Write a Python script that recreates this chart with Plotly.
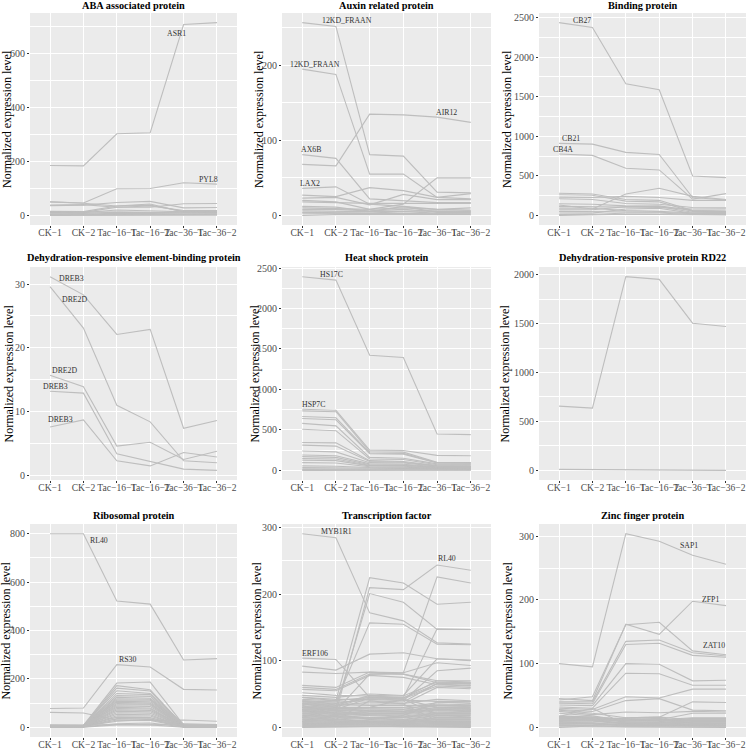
import plotly.graph_objects as go

# ---------------- data ----------------
samples = ["CK\u22121", "CK\u22122", "Tac\u221216\u22121", "Tac\u221216\u22122", "Tac\u221236\u22121", "Tac\u221236\u22122"]

titles = ["ABA associated protein", "Auxin related protein", "Binding protein",
          "Dehydration-responsive element-binding protein", "Heat shock protein",
          "Dehydration-responsive protein RD22",
          "Ribosomal protein", "Transcription factor", "Zinc finger protein"]

y_dticks = [200, 100, 500, 10, 500, 500, 200, 100, 100]

aba_lines = [
    [185, 184, 303, 307, 709, 716],
    [50, 46, 99, 100, 121, 116],
    [50, 45, 35, 38, 15, 14],
    [38, 40, 30, 30, 43, 44],
    [36, 38, 48, 52, 28, 29],
    [15, 14, 35, 42, 12, 12],
    [12, 11, 30, 35, 18, 18],
    [10, 10, 20, 16, 12, 10],
    [14, 13, 10, 9, 10, 9],
    [8, 7, 12, 10, 8, 8],
    [5, 5, 8, 7, 5, 5],
    [3, 3, 4, 4, 3, 3],
    [0, 0, 1, 1, 1, 1],
]
aba_labels = [("ASR1", 3.8, 675), ("PYL8", 4.76, 134)]

auxin_lines = [
    [257, 252, 81, 79, 31, 30],
    [195, 188, 55, 55, 24, 22],
    [68, 66, 135, 134, 131, 124],
    [81, 76, 22, 20, 17, 17],
    [36, 38, 15, 12, 8, 7],
    [27, 25, 37, 33, 24, 29],
    [20, 18, 8, 15, 50, 50],
    [23, 24, 14, 28, 21, 21],
    [18, 17, 16, 16, 16, 16],
    [12, 11, 5, 6, 6, 5],
    [10, 9, 8, 10, 8, 10],
    [8, 8, 6, 8, 5, 6],
    [6, 6, 5, 12, 4, 4],
    [4, 4, 3, 5, 3, 3],
    [3, 3, 2, 2, 2, 2],
    [0, 1, 1, 1, 1, 1],
]
auxin_labels = [("12KD_FRAAN", 1.34, 260), ("12KD_FRAAN", 0.39, 201), ("AIR12", 4.28, 137),
                ("AX6B", 0.27, 88), ("LAX2", 0.22, 42)]

binding_lines = [
    [2435, 2374, 1662, 1587, 498, 477],
    [910, 900, 796, 770, 225, 195],
    [775, 758, 595, 574, 205, 275],
    [130, 80, 270, 343, 240, 200],
    [280, 270, 200, 190, 60, 50],
    [260, 255, 180, 170, 50, 45],
    [230, 225, 240, 225, 190, 190],
    [210, 200, 150, 140, 100, 95],
    [147, 140, 120, 110, 40, 35],
    [113, 110, 100, 100, 80, 80],
    [92, 90, 60, 50, 30, 30],
    [71, 70, 110, 120, 60, 55],
    [50, 48, 40, 40, 20, 20],
    [29, 28, 80, 90, 25, 25],
    [10, 10, 30, 30, 10, 10],
    [0, 5, 15, 10, 5, 5],
]
binding_labels = [("CB27", 0.69, 2466), ("CB21", 0.36, 971), ("CB4A", 0.13, 837)]

dreb_lines = [
    [31.15, 28.3, 22.1, 22.9, 7.4, 8.6],
    [29.6, 23.1, 11.0, 8.4, 2.3, 2.0],
    [15.7, 13.9, 4.6, 5.2, 2.5, 3.8],
    [13.2, 12.9, 3.4, 2.2, 1.0, 0.8],
    [7.6, 8.7, 2.3, 1.5, 3.6, 2.9],
]
dreb_labels = [("DREB3", 0.65, 30.9), ("DRE2D", 0.74, 27.6), ("DRE2D", 0.44, 16.4),
               ("DREB3", 0.17, 13.9), ("DREB3", 0.32, 8.76)]

heat_lines = [
    [2393, 2351, 1423, 1394, 450, 441],
    [755, 742, 250, 245, 185, 180],
    [735, 725, 230, 225, 100, 95],
    [665, 650, 215, 210, 95, 92],
    [640, 625, 205, 200, 90, 88],
    [580, 550, 160, 150, 80, 75],
    [507, 490, 140, 135, 70, 68],
    [345, 340, 120, 110, 60, 55],
    [312, 300, 110, 100, 55, 50],
    [240, 228, 95, 90, 50, 48],
    [190, 180, 80, 75, 45, 42],
    [170, 160, 70, 65, 40, 40],
    [145, 140, 60, 60, 35, 35],
    [125, 120, 55, 50, 30, 30],
    [95, 90, 45, 40, 25, 25],
    [55, 50, 35, 30, 20, 20],
    [35, 30, 25, 22, 15, 15],
    [20, 18, 15, 12, 10, 10],
    [10, 8, 5, 5, 5, 5],
    [0, 2, 2, 2, 2, 2],
]
heat_labels = [("HS17C", 0.88, 2426), ("HSP7C", 0.32, 809)]

rd22_lines = [
    [656, 636, 1979, 1952, 1504, 1470],
    [10, 9, 5, 5, 3, 0],
]
rd22_labels = []

ribo_lines = [
    [800, 800, 522, 509, 278, 284],
    [78, 80, 259, 249, 157, 154],
    [62, 59, 30, 28, 30, 25],
    [10, 9, 12, 10, 15, 12],
    [8, 8, 183, 187, 10, 8],
    [6, 6, 172, 155, 5, 5],
    [5, 5, 162, 150, 8, 6],
    [7, 7, 151, 140, 12, 10],
    [4, 4, 140, 135, 6, 5],
    [5, 5, 131, 128, 4, 4],
    [6, 6, 124, 120, 10, 9],
    [3, 3, 118, 116, 5, 5],
    [5, 5, 113, 112, 3, 3],
    [4, 4, 108, 105, 7, 6],
    [6, 6, 103, 100, 4, 4],
    [3, 3, 98, 96, 5, 5],
    [5, 5, 93, 92, 3, 3],
    [4, 4, 88, 86, 6, 6],
    [6, 6, 83, 80, 4, 4],
    [3, 3, 78, 76, 2, 2],
    [5, 5, 72, 70, 5, 5],
    [4, 4, 66, 64, 3, 3],
    [2, 2, 60, 58, 4, 4],
    [5, 5, 54, 52, 2, 2],
    [3, 3, 48, 47, 3, 3],
    [4, 4, 42, 40, 5, 5],
    [2, 2, 36, 35, 2, 2],
    [3, 3, 30, 28, 3, 3],
    [5, 5, 25, 33, 4, 4],
    [2, 2, 15, 18, 2, 2],
    [0, 1, 10, 10, 1, 1],
]
ribo_labels = [("RL40", 1.48, 770), ("RS30", 2.31, 281)]

tf_lines = [
    [291, 285, 172, 160, 127, 125],
    [25, 22, 210, 207, 244, 236],
    [30, 25, 80, 82, 226, 217],
    [45, 40, 225, 217, 185, 188],
    [35, 30, 201, 188, 147, 147],
    [40, 38, 157, 155, 125, 124],
    [104, 102, 45, 42, 30, 28],
    [92, 86, 110, 112, 103, 101],
    [83, 81, 83, 82, 97, 93],
    [63, 60, 83, 80, 70, 68],
    [60, 57, 80, 80, 67, 65],
    [57, 55, 78, 75, 64, 62],
    [52, 48, 47, 45, 148, 147],
    [48, 45, 50, 48, 103, 100],
    [45, 42, 42, 40, 85, 89],
    [42, 40, 45, 44, 70, 70],
    [40, 38, 40, 38, 66, 66],
    [38, 35, 35, 35, 60, 58],
    [35, 32, 38, 36, 42, 40],
    [32, 30, 30, 30, 37, 38],
    [30, 28, 28, 27, 35, 34],
    [28, 26, 25, 24, 30, 30],
    [26, 24, 22, 22, 28, 27],
    [24, 22, 20, 20, 25, 24],
    [22, 20, 18, 17, 22, 22],
    [20, 18, 15, 15, 20, 20],
    [18, 16, 13, 12, 18, 18],
    [16, 14, 11, 10, 15, 15],
    [14, 12, 9, 9, 13, 13],
    [12, 10, 8, 8, 11, 11],
    [10, 9, 7, 7, 9, 9],
    [8, 7, 6, 6, 7, 7],
    [6, 5, 5, 5, 5, 5],
    [4, 4, 3, 3, 3, 3],
    [2, 2, 2, 2, 2, 2],
    [0, 1, 1, 1, 1, 0],
    [27, 12, 40, 35, 10, 8],
    [15, 28, 30, 42, 20, 25],
    [33, 20, 12, 18, 38, 36],
    [9, 17, 26, 24, 33, 31],
    [39, 36, 43, 41, 39, 39],
    [37, 34, 33, 33, 34, 33],
    [31, 29, 29, 29, 32, 32],
    [29, 27, 26, 26, 29, 28],
    [27, 25, 24, 23, 27, 26],
    [25, 23, 21, 21, 26, 25],
    [23, 21, 19, 19, 23, 23],
    [21, 19, 17, 16, 21, 21],
    [19, 17, 14, 14, 19, 19],
    [17, 15, 12, 11, 17, 16],
    [15, 13, 10, 10, 14, 14],
    [13, 11, 9, 8, 12, 12],
    [11, 9, 7, 7, 10, 10],
    [9, 8, 6, 5, 8, 8],
    [7, 6, 4, 4, 6, 6],
    [5, 4, 3, 3, 4, 4],
    [3, 3, 2, 1, 2, 2],
    [1, 1, 0, 0, 1, 1],
    [36, 33, 48, 47, 68, 67],
    [34, 31, 46, 44, 65, 63],
    [30, 27, 44, 43, 62, 60],
]
tf_labels = [("MYB1R1", 1.02, 294), ("RL40", 4.29, 254), ("ERF106", 0.39, 110.5)]

zinc_lines = [
    [100, 95, 304, 292, 270, 256],
    [45, 42, 162, 146, 198, 191],
    [43, 48, 161, 165, 120, 114],
    [40, 40, 135, 137, 117, 112],
    [38, 37, 130, 132, 113, 110],
    [35, 34, 100, 99, 73, 74],
    [32, 30, 85, 84, 66, 66],
    [30, 28, 48, 46, 60, 60],
    [28, 25, 42, 45, 27, 26],
    [27, 22, 15, 16, 40, 39],
    [25, 20, 24, 23, 25, 24],
    [22, 18, 10, 12, 22, 22],
    [18, 16, 12, 10, 14, 14],
    [17, 30, 4, 3, 2, 2],
    [16, 15, 8, 9, 12, 12],
    [15, 14, 14, 13, 10, 10],
    [13, 12, 6, 7, 9, 9],
    [12, 11, 10, 12, 8, 8],
    [10, 10, 5, 5, 7, 7],
    [9, 8, 12, 14, 6, 6],
    [8, 7, 3, 4, 5, 5],
    [6, 6, 8, 8, 4, 4],
    [5, 5, 2, 2, 3, 3],
    [4, 3, 6, 5, 2, 2],
    [0, 2, 1, 1, 1, 1],
    [17, 16, 13, 11, 13, 13],
    [14, 13, 9, 8, 11, 11],
    [11, 10, 7, 6, 9, 9],
    [7, 6, 4, 3, 6, 6],
    [3, 2, 2, 2, 3, 3],
    [1, 1, 0, 0, 0, 0],
    [16, 14, 11, 12, 15, 15],
    [12, 12, 15, 16, 12, 12],
]
zinc_labels = [("SAP1", 3.89, 286), ("ZFP1", 4.53, 201), ("ZAT10", 4.63, 128)]

panel_lines = [aba_lines, auxin_lines, binding_lines, dreb_lines, heat_lines,
               rd22_lines, ribo_lines, tf_lines, zinc_lines]
panel_labels = [aba_labels, auxin_labels, binding_labels, dreb_labels, heat_labels,
                rd22_labels, ribo_labels, tf_labels, zinc_labels]

# ---------------- layout ----------------
W, H = 750, 749
col_dom = [(0.040, 0.316), (0.376, 0.6547), (0.7187, 0.9947)]
row_dom = [(0.6996, 0.9826), (0.3591, 0.6435), (0.0160, 0.3004)]
title_px = [6, 257, 515]                       # vertical centre of panel titles (px)
ytitle_px = [7, 259, 507, 9, 255, 505, 6, 257, 508]  # horizontal centre of y titles (px)

FONT = "Liberation Serif, Times New Roman, Times, serif"
LINE_COL = "#BEBEBE"
BG = "#EBEBEB"
TICK_SIZE = 9.6

fig = go.Figure()
layout = dict(
    width=W, height=H,
    margin=dict(l=0, r=0, t=0, b=0, autoexpand=False),
    paper_bgcolor="white",
    showlegend=False,
    font=dict(family=FONT, color="#4D4D4D", size=10),
)
annotations = []
shapes = []
x_idx = list(range(len(samples)))

for p in range(9):
    r, c = divmod(p, 3)
    n = p + 1
    xa = "x" if n == 1 else f"x{n}"
    ya = "y" if n == 1 else f"y{n}"
    xkey = "xaxis" if n == 1 else f"xaxis{n}"
    ykey = "yaxis" if n == 1 else f"yaxis{n}"

    lines = panel_lines[p]
    for vals in lines:
        fig.add_trace(go.Scatter(x=x_idx, y=vals, mode="lines", xaxis=xa, yaxis=ya,
                                 line=dict(color=LINE_COL, width=1.1),
                                 hoverinfo="skip"))
    allv = [v for l in lines for v in l]
    lo, hi = min(allv), max(allv)
    pad = (hi - lo) * 0.05
    dt = y_dticks[p]

    layout[xkey] = dict(
        domain=list(col_dom[c]), anchor=ya, range=[-0.6, 5.6], automargin=False,
        tickmode="array", tickvals=x_idx, ticktext=samples, tickangle=0,
        showgrid=True, gridcolor="white", gridwidth=1.2, zeroline=False,
        ticks="outside", ticklen=2, tickcolor="#333333", tickwidth=1,
        ticklabelstandoff=-4,
        tickfont=dict(family=FONT, size=TICK_SIZE, color="#4D4D4D"),
        showline=False, fixedrange=True,
    )
    layout[ykey] = dict(
        domain=list(row_dom[r]), anchor=xa, range=[lo - pad, hi + pad], automargin=False,
        tickmode="linear", tick0=0, dtick=dt,
        showgrid=True, gridcolor="white", gridwidth=1.2, zeroline=False,
        minor=dict(dtick=dt / 2, tick0=0, showgrid=True, gridcolor="white", gridwidth=0.6, ticks=""),
        ticks="outside", ticklen=2, tickcolor="#333333", tickwidth=1,
        tickfont=dict(family=FONT, size=10, color="#4D4D4D"),
        showline=False, fixedrange=True,
    )
    shapes.append(dict(
        type="rect", xref=f"{xa} domain", yref=f"{ya} domain", x0=0, x1=1, y0=0, y1=1,
        fillcolor=BG, line=dict(width=0), layer="below"))
    annotations.append(dict(
        text=f"<b>{titles[p]}</b>", xref="paper", yref="paper",
        x=(col_dom[c][0] + col_dom[c][1]) / 2, y=1 - title_px[r] / H,
        xanchor="center", yanchor="middle", showarrow=False,
        font=dict(family=FONT, size=10.3, color="black")))
    annotations.append(dict(
        text="Normalized expression level", xref="paper", yref=f"{ya} domain",
        x=ytitle_px[p] / W, y=0.5, textangle=-90,
        xanchor="center", yanchor="middle", showarrow=False,
        font=dict(family=FONT, size=12, color="black")))
    for txt, lx, ly in panel_labels[p]:
        annotations.append(dict(
            text=txt, xref=xa, yref=ya, x=lx, y=ly, showarrow=False,
            xanchor="center", yanchor="middle",
            font=dict(family=FONT, size=7.8, color="#333333")))

layout["annotations"] = annotations
layout["shapes"] = shapes
layout["plot_bgcolor"] = BG
fig.update_layout(**layout)
fig.write_html("out.html", config={"displayModeBar": False},
               post_script="document.body.style.margin='0';document.body.style.overflow='hidden';")
